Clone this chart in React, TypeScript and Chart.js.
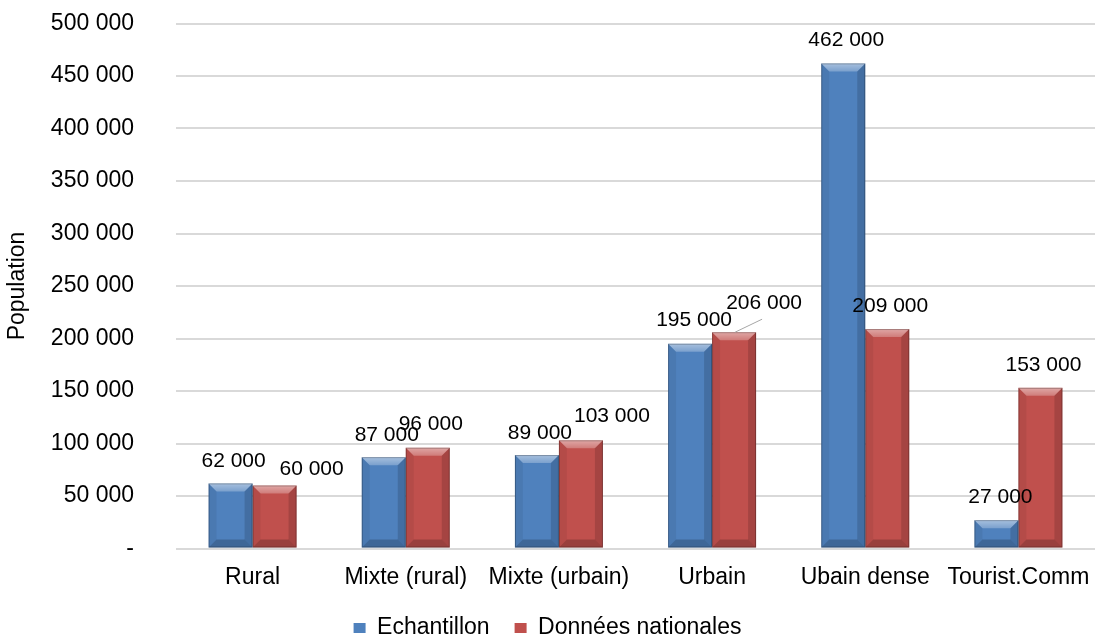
import React, { useEffect, useRef } from "react";
import { Chart, registerables } from "chart.js";

Chart.register(...registerables);

const categories = ["Rural", "Mixte (rural)", "Mixte (urbain)", "Urbain", "Ubain dense", "Tourist.Comm"];
const echantillon = [62000, 87000, 89000, 195000, 462000, 27000];
const nationales = [60000, 96000, 103000, 206000, 209000, 153000];
const seriesNames = ["Echantillon", "Données nationales"];
const yMin = 0;
const yMax = 500000;
const yStep = 50000;

// label shifts relative to bar top centre [dx, dy]
const echantillonLabelShift = [[3, -22], [3, -22], [3, -22], [4, -24], [3, -23], [4, -23]];
const nationalesLabelShift = [[37, -16.5], [3, -23], [31, -24], [30, -29], [3, -22.5], [3, -23]];
const nationalesLeader = [false, false, false, true, false, false];

const FONT = "'Liberation Sans', Arial, Helvetica, sans-serif";

const fmt = (v: number) => {
  if (v === 0) return "-";
  return Math.round(v).toString().replace(/\B(?=(\d{3})+(?!\d))/g, " ");
};

const bevelPlugin = {
  id: "bevel",
  afterDatasetsDraw(chart: any) {
    const ctx = chart.ctx;
    chart.data.datasets.forEach((ds: any, di: number) => {
      const meta = chart.getDatasetMeta(di);
      meta.data.forEach((el: any) => {
        const { x, y, base, width } = el.getProps(["x", "y", "base", "width"], true);
        const l = x - width / 2;
        const r = x + width / 2;
        const t = Math.min(y, base);
        const b = Math.max(y, base);
        const h = b - t;
        const bv = Math.min(8, h / 2);
        ctx.save();
        ctx.beginPath();
        ctx.moveTo(l, t);
        ctx.lineTo(r, t);
        ctx.lineTo(r - bv, t + bv);
        ctx.lineTo(l + bv, t + bv);
        ctx.closePath();
        const g = ctx.createLinearGradient(0, t, 0, t + bv);
        g.addColorStop(0, "rgba(255,255,255,0.5)");
        g.addColorStop(1, "rgba(255,255,255,0.25)");
        ctx.fillStyle = g;
        ctx.fill();
        ctx.beginPath();
        ctx.moveTo(l, t);
        ctx.lineTo(l + bv, t + bv);
        ctx.lineTo(l + bv, b - bv);
        ctx.lineTo(l, b);
        ctx.closePath();
        ctx.fillStyle = "rgba(0,0,0,0.06)";
        ctx.fill();
        ctx.beginPath();
        ctx.moveTo(r, t);
        ctx.lineTo(r - bv, t + bv);
        ctx.lineTo(r - bv, b - bv);
        ctx.lineTo(r, b);
        ctx.closePath();
        ctx.fillStyle = "rgba(0,0,0,0.14)";
        ctx.fill();
        ctx.beginPath();
        ctx.moveTo(l, b);
        ctx.lineTo(l + bv, b - bv);
        ctx.lineTo(r - bv, b - bv);
        ctx.lineTo(r, b);
        ctx.closePath();
        ctx.fillStyle = "rgba(0,0,0,0.2)";
        ctx.fill();
        ctx.strokeStyle = "rgba(0,0,0,0.25)";
        ctx.lineWidth = 1;
        ctx.strokeRect(l + 0.5, t + 0.5, width - 1, h - 1);
        ctx.restore();
      });
    });
  },
};

const labelPlugin = {
  id: "valueLabels",
  afterDatasetsDraw(chart: any) {
    const ctx = chart.ctx;
    const shifts = [echantillonLabelShift, nationalesLabelShift];
    const leaders = [[], nationalesLeader];
    ctx.save();
    ctx.font = `21px ${FONT}`;
    ctx.fillStyle = "#000";
    ctx.textAlign = "center";
    ctx.textBaseline = "middle";
    chart.data.datasets.forEach((ds: any, di: number) => {
      const meta = chart.getDatasetMeta(di);
      meta.data.forEach((el: any, i: number) => {
        const { x, y } = el.getProps(["x", "y"], true);
        const [dx, dy] = shifts[di][i];
        const lx = x + dx;
        const ly = y + dy;
        if ((leaders[di] as boolean[])[i]) {
          ctx.beginPath();
          ctx.strokeStyle = "#a6a6a6";
          ctx.lineWidth = 1;
          ctx.moveTo(lx - 2, ly + 16);
          ctx.lineTo(x + 1, y);
          ctx.stroke();
        }
        ctx.fillText(fmt(ds.data[i]), lx, ly);
      });
    });
    ctx.restore();
  },
};

export default function App() {
  const ref = useRef<HTMLCanvasElement>(null);
  useEffect(() => {
    if (!ref.current) return;
    const chart = new Chart(ref.current, {
      type: "bar",
      data: {
        labels: categories,
        datasets: [
          {
            label: seriesNames[0],
            data: echantillon,
            backgroundColor: "#4f81bd",
            borderColor: "#3f6a9c",
            borderWidth: 0,
          },
          {
            label: seriesNames[1],
            data: nationales,
            backgroundColor: "#c0504d",
            borderColor: "#9c3f3c",
            borderWidth: 0,
          },
        ],
      },
      options: {
        responsive: false,
        animation: false,
        devicePixelRatio: 1,
        datasets: {
          bar: { categoryPercentage: 0.5745, barPercentage: 1 },
        },
        layout: { padding: { top: 23.5, right: 0, left: 0, bottom: -12.5 } },
        plugins: {
          tooltip: { enabled: false },
          legend: {
            position: "bottom",
            labels: {
              boxWidth: 12,
              boxHeight: 10,
              padding: 25,
              color: "#000",
              font: { family: FONT, size: 23 },
            },
          },
        },
        scales: {
          x: {
            grid: {
              display: true,
              drawOnChartArea: false,
              drawTicks: true,
              tickLength: 18,
              color: "rgba(0,0,0,0)",
              tickColor: "rgba(0,0,0,0)",
            },
            border: { display: false },
            ticks: {
              color: "#000",
              padding: 0,
              maxRotation: 0,
              autoSkip: false,
              font: { family: FONT, size: 23, lineHeight: 1 },
            },
            afterFit(scale: any) {
              scale.height = 43;
            },
          },
          y: {
            min: yMin,
            max: yMax,
            grid: {
              color: "#d9d9d9",
              lineWidth: 2,
              drawTicks: true,
              tickLength: 42,
              tickColor: "rgba(0,0,0,0)",
            },
            border: { display: false },
            ticks: {
              stepSize: yStep,
              color: "#000",
              padding: 0,
              font: { family: FONT, size: 23 },
              callback: (v: any) => fmt(Number(v)),
            },
            title: {
              display: true,
              text: "Population",
              color: "#000",
              padding: { top: 4, bottom: 0 },
              font: { family: FONT, size: 23 },
            },
            afterFit(scale: any) {
              scale.width = 176;
            },
          },
        },
      },
      plugins: [bevelPlugin, labelPlugin],
    });
    return () => chart.destroy();
  }, []);
  return (
    <div style={{ position: "absolute", left: 0, top: 0, width: 1095, height: 637, background: "#fff" }}>
      <canvas ref={ref} width={1095} height={637} />
    </div>
  );
}
